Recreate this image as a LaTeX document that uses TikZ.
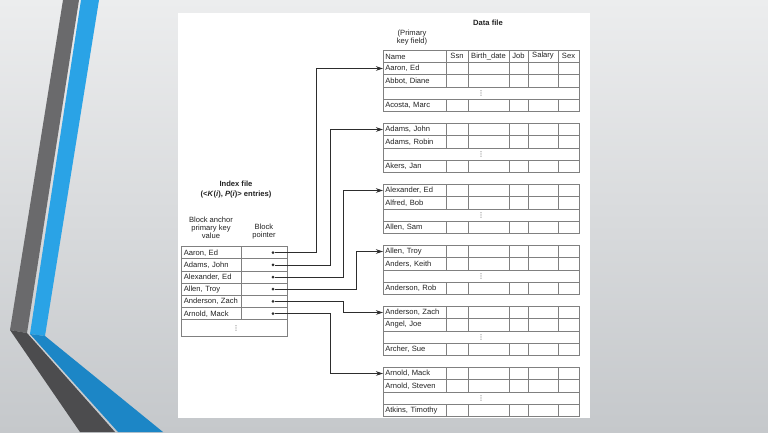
\documentclass[tikz,border=0pt]{standalone}
\usepackage{fontspec}
\setmainfont{Liberation Sans}
\newfontfamily\symfont{DejaVu Sans}
\usetikzlibrary{calc}
\usetikzlibrary{positioning}
\usetikzlibrary{arrows.meta}
\definecolor{custom-bgtop}{RGB}{236, 237, 238}
\definecolor{custom-bgbottom}{RGB}{197, 200, 203}
\definecolor{custom-gray}{RGB}{106, 106, 108}
\definecolor{custom-darkgray}{RGB}{76, 76, 78}
\definecolor{custom-blue}{RGB}{42, 163, 230}
\definecolor{custom-darkblue}{RGB}{28, 134, 198}
\definecolor{custom-grid}{RGB}{128, 128, 128}
\definecolor{custom-line}{RGB}{45, 45, 45}
\definecolor{custom-text}{RGB}{35, 35, 35}
\newcommand{\tabfont}{\fontsize{7.6}{8}\selectfont}

\begin{document}
\begin{tikzpicture}[x=1pt, y=-1pt, line width=0.6pt, font=\tabfont, text=custom-text,
    grid/.style={draw=custom-grid},
    link/.style={draw=custom-line, -{Stealth[length=7pt, width=4.5pt]}},
    namecell/.style={anchor=north west, text width=59pt, inner xsep=2pt, inner ysep=0pt, minimum height=12.4pt, align=left},
    idxcell/.style={anchor=north west, text width=56pt, inner xsep=2pt, inner ysep=0pt, minimum height=12.2pt, align=left},
    ptr/.style={circle, fill=custom-line, inner sep=0pt, minimum size=3pt},
    gap/.style={inner sep=0pt, font=\symfont\fontsize{6.5}{6.5}\selectfont}]
\useasboundingbox (0,0) rectangle (768,432);
\shade[top color=custom-bgtop, bottom color=custom-bgbottom] (0,0) rectangle (768,432);

% side bands
\filldraw[fill=custom-gray, draw=none] (63,0) -- (79,0) -- (27,333) -- (10,330) -- cycle;
\filldraw[fill=custom-darkgray, draw=none] (10,330) -- (27,333) -- (115,432) -- (80,432) -- cycle;
\filldraw[fill=custom-blue, draw=none] (81,0) -- (99,0) -- (45,336) -- (30,334) -- cycle;
\filldraw[fill=custom-darkblue, draw=none] (30,334) -- (45,336) -- (163,432) -- (118,432) -- cycle;

% page
\filldraw[fill=white, draw=none] (178,13) rectangle (590,418);

% data file
\node[font=\tabfont\bfseries] (datafile) at (488,23) {Data file};
\node[align=center] (pkey) at (412,38) {(Primary\\key field)};
\draw[grid] (383,50) rectangle (579,62);
\foreach \col in {446,468,509,528,558}
    \draw[grid] (\col,50) -- (\col,62);
\node[namecell] (hname) at (383,50) {Name};
\node (hssn) at (457,56) {Ssn};
\node (hbirth) at (488.5,56) {Birth\_date};
\node (hjob) at (518.5,56) {Job};
\node (hsal) at (543,56) {Salary};
\node (hsex) at (568.5,56) {Sex};

\foreach \k/\nameA/\nameB/\nameC in {0/{Aaron, Ed}/{Abbot, Diane}/{Acosta, Marc},
        1/{Adams, John}/{Adams, Robin}/{Akers, Jan},
        2/{Alexander, Ed}/{Alfred, Bob}/{Allen, Sam},
        3/{Allen, Troy}/{Anders, Keith}/{Anderson, Rob},
        4/{Anderson, Zach}/{Angel, Joe}/{Archer, Sue},
        5/{Arnold, Mack}/{Arnold, Steven}/{Atkins, Timothy}}{
    \pgfmathsetmacro{\ytop}{62+61*\k}
    \draw[grid] (383,\ytop) rectangle (579,\ytop+49.6);
    \draw[grid] (383,\ytop+12.4) -- (579,\ytop+12.4) (383,\ytop+24.8) -- (579,\ytop+24.8)
        (383,\ytop+37.2) -- (579,\ytop+37.2);
    \foreach \col in {446,468,509,528,558}
        \draw[grid] (\col,\ytop) -- (\col,\ytop+24.8) (\col,\ytop+37.2) -- (\col,\ytop+49.6);
    \node[namecell] (d\k) at (383,\ytop) {\nameA};
    \node[namecell] (e\k) at (383,\ytop+12.4) {\nameB};
    \node[gap] (g\k) at (481,\ytop+31) {⋮};
    \node[namecell] (f\k) at (383,\ytop+37.2) {\nameC};
}

% index file
\node[font=\tabfont\bfseries] (idxfile) at (236,184) {Index file};
\node[font=\tabfont\bfseries] (idxentries) at (236,195) {(<\textit{K}(\textit{i}), \textit{P}(\textit{i})> entries)};
\node[align=center] (anchorhead) at (211,228) {Block anchor\\primary key\\value};
\node[align=center] (ptrhead) at (264,232) {Block\\pointer};
\draw[grid] (181.5,246.5) rectangle (287,336.5);
\draw[grid] (241.5,246.5) -- (241.5,319.7);
\foreach \r in {1,...,6}
    \draw[grid] (181.5,246.5+12.2*\r) -- (287,246.5+12.2*\r);
\node[gap] (idxgap) at (236,328) {⋮};

\foreach \k/\who in {0/{Aaron, Ed}, 1/{Adams, John}, 2/{Alexander, Ed},
        3/{Allen, Troy}, 4/{Anderson, Zach}, 5/{Arnold, Mack}}{
    \node[idxcell] (i\k) at (181.5,246.5+12.2*\k) {\who};
    \node[ptr] (p\k) at (273,252.6+12.2*\k) {};
}

% block pointers
\draw[link] (p0) -| (316,0 |- d0.west) -- (d0.west);
\draw[link] (p1) -| (330,0 |- d1.west) -- (d1.west);
\draw[link] (p2) -| (343,0 |- d2.west) -- (d2.west);
\draw[link] (p3) -| (356,0 |- d3.west) -- (d3.west);
\draw[link] (p4) -| (343,0 |- d4.west) -- (d4.west);
\draw[link] (p5) -| (330,0 |- d5.west) -- (d5.west);

\end{tikzpicture}
\end{document}
